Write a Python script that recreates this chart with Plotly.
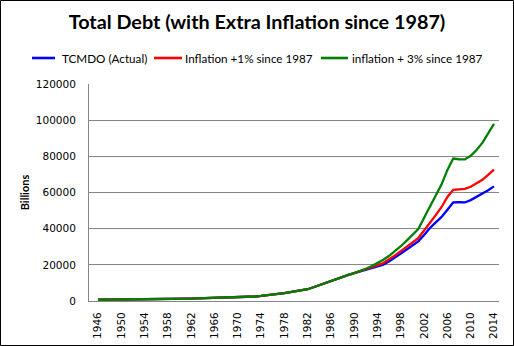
import plotly.graph_objects as go

years = list(range(1946, 2015))

base_pre = [700, 720, 740, 760, 800, 830, 870, 900, 930, 980,
            1020, 1060, 1100, 1160, 1210, 1270, 1340, 1420, 1500, 1560,
            1620, 1700, 1780, 1870, 1950, 2050, 2250, 2500, 2800, 3100,
            3500, 3950, 4400, 4900, 5400, 5900, 6500, 7600, 8800, 10000,
            11200, 12300, 13400, 14400, 15400, 16400]

tcmdo_post = [17300, 18300, 19200, 20100, 22000, 24000, 26200, 28500, 30800,
              33000, 36500, 40400, 43500, 46500, 50500, 54500, 54700, 54500,
              55800, 57500, 59300, 61300, 63400]
infl1_post = [17500, 18700, 19800, 21000, 23000, 25200, 27600, 30000, 32500,
              34800, 39000, 43100, 47500, 52000, 57500, 61500, 61800, 62000,
              63200, 65000, 67000, 69700, 72600]
infl3_post = [17800, 19300, 21000, 22800, 25000, 27500, 30300, 33400, 36500,
              39800, 46000, 52300, 58500, 64500, 72500, 78800, 78400, 78300,
              80300, 83500, 87400, 92500, 98000]

tcmdo = base_pre + tcmdo_post
infl1 = base_pre + infl1_post
infl3 = base_pre + infl3_post

series = [
    ("TCMDO (Actual)", tcmdo, "#0000FF"),
    ("Inflation +1% since 1987", infl1, "#FF0000"),
    ("inflation + 3% since 1987", infl3, "#008000"),
]

y_ticks = [0, 20000, 40000, 60000, 80000, 100000, 120000]
x_ticks = list(range(1946, 2015, 4))

W, H = 514, 346
L, R, T, B = 89, 15, 84, 45
pw, ph = W - L - R, H - T - B

# legend key placement (pixels): line start, line end, text start
legend_pos = [(32, 55, 60), (154, 182, 183), (321, 348, 350)]
legend_y = 58

fig = go.Figure()
for name, vals, col in series:
    fig.add_trace(go.Scatter(x=years, y=vals, mode="lines", name=name,
                             line=dict(color=col, width=2.3), showlegend=False))


def px_x(p):
    return (p - L) / pw


def px_y(p):
    return (H - B - p) / ph


shapes = [dict(type="rect", xref="paper", yref="paper",
               x0=px_x(0.5), x1=px_x(W - 0.5), y0=px_y(H - 0.5), y1=px_y(0.5),
               line=dict(color="black", width=1), fillcolor="rgba(0,0,0,0)")]
annotations = []
for (name, _, col), (x0, x1, xt) in zip(series, legend_pos):
    shapes.append(dict(type="line", xref="paper", yref="paper",
                       x0=px_x(x0), x1=px_x(x1), y0=px_y(legend_y), y1=px_y(legend_y),
                       line=dict(color=col, width=2.6)))
    annotations.append(dict(text=name, xref="paper", yref="paper",
                            x=px_x(xt), y=px_y(legend_y), xanchor="left",
                            yanchor="middle", showarrow=False,
                            font=dict(family="Lato", size=11.7, color="black")))

fig.update_layout(
    width=W, height=H,
    margin=dict(l=L, r=R, t=T, b=B, autoexpand=False),
    paper_bgcolor="white", plot_bgcolor="white",
    title=dict(text="<b>Total Debt (with Extra Inflation since 1987)</b>",
               x=0.5, xanchor="center", xref="container",
               y=1 - 22.5 / H, yanchor="middle", yref="container",
               font=dict(family="Lato", size=19.8, color="black")),
    showlegend=False,
    xaxis=dict(range=[1944.45, 2014.86], tickmode="array", tickvals=x_ticks,
               ticktext=[str(v) for v in x_ticks], tickangle=-90,
               showgrid=False, showline=True, linecolor="#868686", linewidth=1,
               zeroline=False, ticks="", ticklabelstandoff=6,
               tickfont=dict(family="DejaVu Sans", size=10.5, color="black")),
    yaxis=dict(range=[0, 120000], tickmode="array", tickvals=y_ticks,
               ticktext=[str(v) for v in y_ticks],
               showgrid=True, gridcolor="#868686", gridwidth=1,
               showline=True, linecolor="#868686", linewidth=1,
               zeroline=False, ticks="", ticklabelstandoff=10,
               tickfont=dict(family="DejaVu Sans", size=10.5, color="black"),
               title=dict(text="<b>Billions</b>", standoff=3,
                          font=dict(family="Lato", size=11, color="black"))),
    shapes=shapes,
    annotations=annotations,
)

fig.write_html("out.html")
